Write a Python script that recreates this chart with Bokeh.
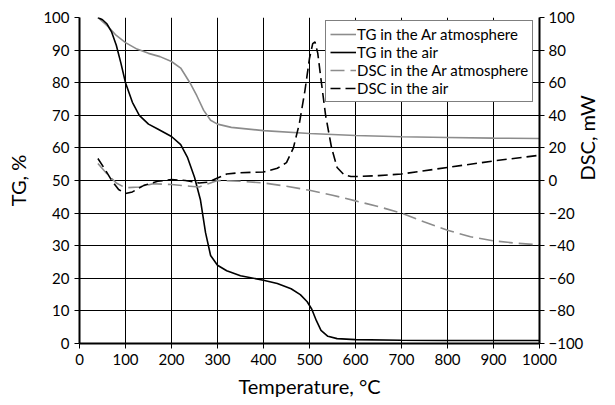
import math
from bokeh.plotting import figure
from bokeh.models import Range1d, LinearAxis, FixedTicker, Legend, LegendItem
from bokeh.embed import file_html
from bokeh.resources import INLINE

# ---- data ----
tg_ar_T = [40, 60, 80, 100, 125, 150, 175, 200, 220, 240, 255, 270, 285, 300, 330, 400, 500, 600, 700, 800, 900, 1000]
tg_ar_v = [100, 97.5, 94.5, 92.3, 90.3, 89, 88, 86.5, 84.5, 80, 76, 71.5, 68.5, 67.3, 66.3, 65.3, 64.4, 63.8, 63.4, 63.2, 63.0, 62.9]

tg_air_T = [40, 50, 60, 70, 80, 90, 100, 115, 130, 150, 170, 200, 220, 235, 250, 263, 274, 285, 300, 320, 350, 400, 430, 460, 480, 495, 505, 515, 525, 540, 560, 600, 700, 800, 1000]
tg_air_v = [100, 99.3, 98, 95.5, 91.5, 86, 80, 74, 70, 67.3, 65.8, 63.5, 61, 57, 51, 44, 34, 27, 24, 22.3, 20.8, 19.4, 18.4, 16.8, 15, 12.8, 10.5, 7, 4, 2.2, 1.5, 1.2, 1.0, 0.9, 0.9]

dsc_ar_T = [40, 60, 80, 100, 130, 160, 200, 240, 260, 280, 300, 350, 400, 450, 500, 550, 600, 650, 700, 750, 800, 850, 900, 950, 1000]
dsc_ar_v = [10.4, 4, -1.5, -4.5, -4, -2, -2.5, -3.5, -4, -2, 0, -0.5, -1.5, -3.5, -6, -9, -12.5, -16, -20, -25.5, -30.5, -34.5, -37, -38.5, -39.5]

dsc_air_T = [40, 55, 70, 85, 100, 115, 140, 170, 200, 230, 260, 280, 300, 320, 350, 400, 430, 450, 465, 478, 490, 500, 507, 512, 518, 525, 535, 548, 560, 575, 590, 605, 650, 700, 800, 900, 1000]
dsc_air_v = [13.5, 7, 0, -5.5, -8, -7, -3, -0.5, 0.6, 0, -1.5, -1, 1.5, 4, 4.8, 5.2, 7.5, 11, 20, 35, 55, 75, 84, 85, 78, 62, 40, 20, 8, 3.5, 2.5, 2.5, 3, 4, 8, 12, 15.5]

x_ticks = list(range(0, 1001, 100))
tg_ticks = list(range(0, 101, 10))
dsc_ticks = list(range(-100, 101, 20))

FONT = "Lato"
GRAY = "#8c8c8c"

p = figure(width=615, height=405, output_backend="svg", toolbar_location=None,
           x_range=Range1d(0, 1000), y_range=Range1d(0, 100),
           min_border_left=79, min_border_right=76, min_border_top=17, min_border_bottom=62)
p.outline_line_color = None
p.background_fill_color = "white"
p.extra_y_ranges = {"dsc": Range1d(-100, 100)}

# axes
p.xaxis.ticker = FixedTicker(ticks=x_ticks)
p.yaxis.ticker = FixedTicker(ticks=tg_ticks)
p.xaxis.axis_label = "Temperature, °C"
p.yaxis.axis_label = "TG, %"
right = LinearAxis(y_range_name="dsc", ticker=FixedTicker(ticks=dsc_ticks), axis_label="DSC, mW")
p.add_layout(right, "right")

for ax in [p.xaxis[0], p.yaxis[0], right]:
    ax.axis_line_width = 2
    ax.axis_line_color = "black"
    ax.major_tick_line_color = "black"
    ax.major_tick_line_width = 1
    ax.major_tick_out = 5
    ax.major_tick_in = 0
    ax.minor_tick_line_color = None
    ax.major_label_text_font = FONT
    ax.major_label_text_font_size = "15px"
    ax.major_label_text_color = "black"
    ax.axis_label_text_font = FONT
    ax.axis_label_text_font_size = "20px"
    ax.axis_label_text_font_style = "normal"
    ax.axis_label_text_color = "black"
    ax.major_label_standoff = 5
p.xaxis.axis_label_standoff = 6
p.yaxis.axis_label_standoff = 10
right.axis_label_standoff = 1
right.major_label_standoff = 4
right.axis_label_orientation = math.pi / 2

p.xgrid.ticker = FixedTicker(ticks=x_ticks)
p.ygrid.ticker = FixedTicker(ticks=tg_ticks)
p.grid.grid_line_color = "black"
p.grid.grid_line_width = 1
p.grid.grid_line_alpha = 1

r1 = p.line(tg_ar_T, tg_ar_v, line_color=GRAY, line_width=1.6)
r2 = p.line(tg_air_T, tg_air_v, line_color="black", line_width=1.6)
r3 = p.line(dsc_ar_T, dsc_ar_v, line_color=GRAY, line_width=1.6, line_dash="14 6", y_range_name="dsc")
r4 = p.line(dsc_air_T, dsc_air_v, line_color="black", line_width=1.6, line_dash="10 5", y_range_name="dsc")

legend = Legend(items=[
    LegendItem(label="TG in the Ar atmosphere", renderers=[r1]),
    LegendItem(label="TG in the air", renderers=[r2]),
    LegendItem(label="DSC in the Ar atmosphere", renderers=[r3]),
    LegendItem(label="DSC in the air", renderers=[r4]),
], location=(246, 241))
legend.label_text_font = FONT
legend.label_text_font_size = "15px"
legend.label_text_color = "black"
legend.glyph_width = 26
legend.glyph_height = 18
legend.label_height = 18
legend.label_standoff = 1
legend.spacing = 0
legend.padding = 4
legend.margin = 0
legend.border_line_color = "black"
legend.border_line_width = 1
legend.background_fill_alpha = 1
p.add_layout(legend, "center")

open("out.html", "w").write(file_html(p, INLINE))
